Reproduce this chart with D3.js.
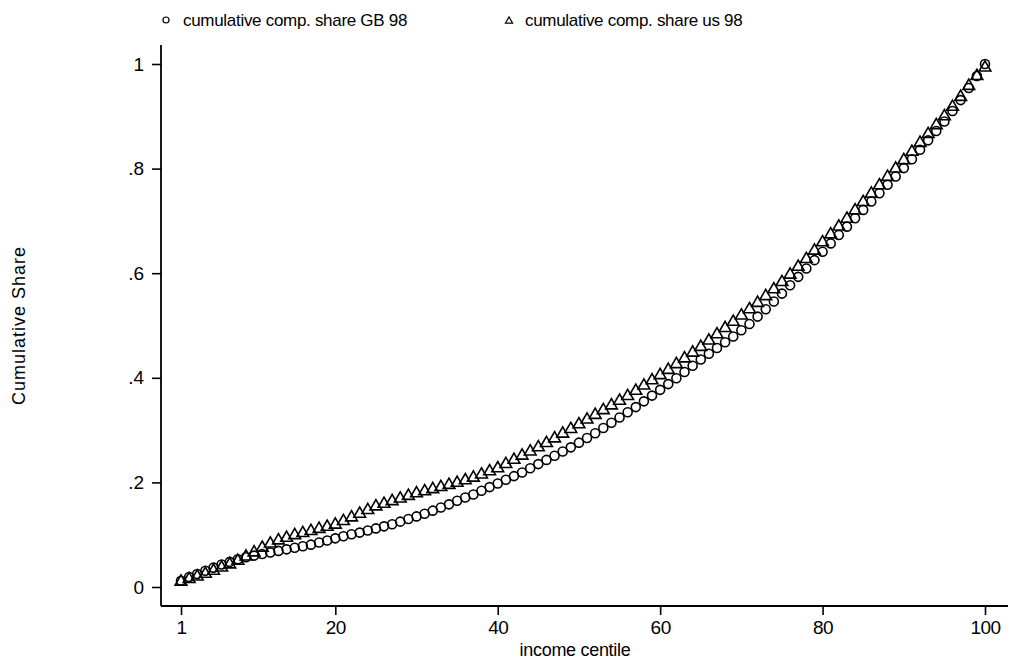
<!DOCTYPE html>
<html>
<head>
<meta charset="utf-8">
<script src="https://cdn.jsdelivr.net/npm/d3@7"></script>
<style>
  body { margin: 0; background: #fff; }
  text { font-family: "Liberation Sans", Arial, sans-serif; fill: #000; }
</style>
</head>
<body>
<div id="chart-area"></div>
<script>
// income centiles 1..100
const centiles = d3.range(1, 101);

// cumulative comp. share GB 98 (circles)
const shareGB = [
  0.012, 0.019, 0.025, 0.031, 0.037, 0.043, 0.048, 0.053, 0.057, 0.060,
  0.063, 0.066, 0.069, 0.072, 0.075, 0.078, 0.081, 0.085, 0.089, 0.093,
  0.097, 0.101, 0.104, 0.108, 0.112, 0.116, 0.120, 0.125, 0.130, 0.135,
  0.140, 0.146, 0.152, 0.158, 0.165, 0.171, 0.177, 0.184, 0.191, 0.198,
  0.205, 0.212, 0.219, 0.227, 0.235, 0.243, 0.251, 0.259, 0.267, 0.276,
  0.285, 0.294, 0.304, 0.314, 0.324, 0.334, 0.344, 0.355, 0.366, 0.377,
  0.388, 0.399, 0.411, 0.423, 0.435, 0.446, 0.457, 0.468, 0.479, 0.491,
  0.503, 0.517, 0.531, 0.546, 0.561, 0.577, 0.593, 0.609, 0.625, 0.641,
  0.657, 0.673, 0.689, 0.705, 0.721, 0.737, 0.753, 0.769, 0.785, 0.801,
  0.818, 0.836, 0.854, 0.872, 0.890, 0.910, 0.931, 0.954, 0.977, 1.000
];

// cumulative comp. share us 98 (triangles)
const shareUS = [
  0.010, 0.015, 0.020, 0.025, 0.031, 0.037, 0.043, 0.050, 0.058, 0.066,
  0.075, 0.083, 0.089, 0.094, 0.099, 0.103, 0.107, 0.111, 0.115, 0.119,
  0.126, 0.133, 0.140, 0.147, 0.154, 0.159, 0.164, 0.169, 0.174, 0.179,
  0.183, 0.187, 0.191, 0.195, 0.199, 0.204, 0.209, 0.215, 0.221, 0.227,
  0.235, 0.243, 0.251, 0.259, 0.267, 0.275, 0.284, 0.293, 0.302, 0.311,
  0.320, 0.329, 0.338, 0.347, 0.356, 0.365, 0.375, 0.385, 0.395, 0.405,
  0.415, 0.426, 0.437, 0.448, 0.459, 0.471, 0.483, 0.495, 0.507, 0.519,
  0.531, 0.543, 0.556, 0.569, 0.583, 0.597, 0.612, 0.627, 0.643, 0.659,
  0.674, 0.689, 0.704, 0.720, 0.736, 0.752, 0.768, 0.784, 0.800, 0.816,
  0.832, 0.849, 0.866, 0.883, 0.900, 0.918, 0.937, 0.958, 0.977, 0.993
];

const xTicks = [1, 20, 40, 60, 80, 100];
const yTicks = [0, 0.2, 0.4, 0.6, 0.8, 1];
const yTickLabels = ["0", ".2", ".4", ".6", ".8", "1"];
const legendLabels = ["cumulative comp. share GB 98", "cumulative comp. share us 98"];

const width = 1012, height = 667;
const plot = { left: 161, right: 1008, top: 45, bottom: 606 };

const svg = d3.select("#chart-area")
  .append("svg")
  .attr("width", width)
  .attr("height", height);

const x = d3.scaleLinear().domain([1, 100]).range([181, 985]);
const y = d3.scaleLinear().domain([0, 1]).range([587, 64]);

// axes
const yAxis = svg.append("g")
  .attr("transform", `translate(${plot.left},0)`)
  .call(d3.axisLeft(y).tickValues(yTicks).tickSize(9).tickPadding(8)
    .tickFormat((d, i) => yTickLabels[i]));
yAxis.select(".domain").remove();
yAxis.selectAll("text").style("font-size", "19px");
yAxis.selectAll("line").attr("stroke-width", 1.6);

const xAxis = svg.append("g")
  .attr("transform", `translate(0,${plot.bottom})`)
  .call(d3.axisBottom(x).tickValues(xTicks).tickSize(9).tickPadding(6)
    .tickFormat(d3.format("d")));
xAxis.select(".domain").remove();
xAxis.selectAll("text").style("font-size", "19px").style("letter-spacing", "-0.5px");
xAxis.selectAll("line").attr("stroke-width", 1.6);

svg.append("line")
  .attr("x1", plot.left).attr("x2", plot.left)
  .attr("y1", plot.top).attr("y2", plot.bottom)
  .attr("stroke", "#000").attr("stroke-width", 1.8);
svg.append("line")
  .attr("x1", plot.left).attr("x2", plot.right)
  .attr("y1", plot.bottom).attr("y2", plot.bottom)
  .attr("stroke", "#000").attr("stroke-width", 1.8);

// axis titles
svg.append("text")
  .attr("x", (x(1) + x(100)) / 2 - 8).attr("y", 656)
  .attr("text-anchor", "middle")
  .style("font-size", "18px")
  .style("letter-spacing", "-0.3px")
  .text("income centile");

svg.append("text")
  .attr("transform", `translate(25,${(y(0) + y(1)) / 2}) rotate(-90)`)
  .attr("text-anchor", "middle")
  .style("font-size", "18px")
  .style("letter-spacing", "1px")
  .text("Cumulative Share");

// markers
const triangle = d3.symbol().type(d3.symbolTriangle).size(60);

svg.append("g").selectAll("path")
  .data(shareUS)
  .join("path")
  .attr("d", triangle)
  .attr("transform", (d, i) => `translate(${x(centiles[i])},${y(d)})`)
  .attr("fill", "none").attr("stroke", "#000").attr("stroke-width", 1.6);

svg.append("g").selectAll("circle")
  .data(shareGB)
  .join("circle")
  .attr("cx", (d, i) => x(centiles[i]))
  .attr("cy", d => y(d))
  .attr("r", 4.5)
  .attr("fill", "none").attr("stroke", "#000").attr("stroke-width", 1.6);

// legend
const leg = svg.append("g");
leg.append("circle").attr("cx", 166).attr("cy", 20).attr("r", 3)
  .attr("fill", "none").attr("stroke", "#000").attr("stroke-width", 1.2);
leg.append("text").attr("x", 183).attr("y", 26)
  .style("font-size", "17px").style("letter-spacing", "-0.3px")
  .text(legendLabels[0]);
leg.append("path").attr("d", d3.symbol().type(d3.symbolTriangle).size(22))
  .attr("transform", "translate(509,21)")
  .attr("fill", "none").attr("stroke", "#000").attr("stroke-width", 1.2);
leg.append("text").attr("x", 525).attr("y", 26)
  .style("font-size", "17px").style("letter-spacing", "-0.3px")
  .text(legendLabels[1]);
</script>
</body>
</html>
